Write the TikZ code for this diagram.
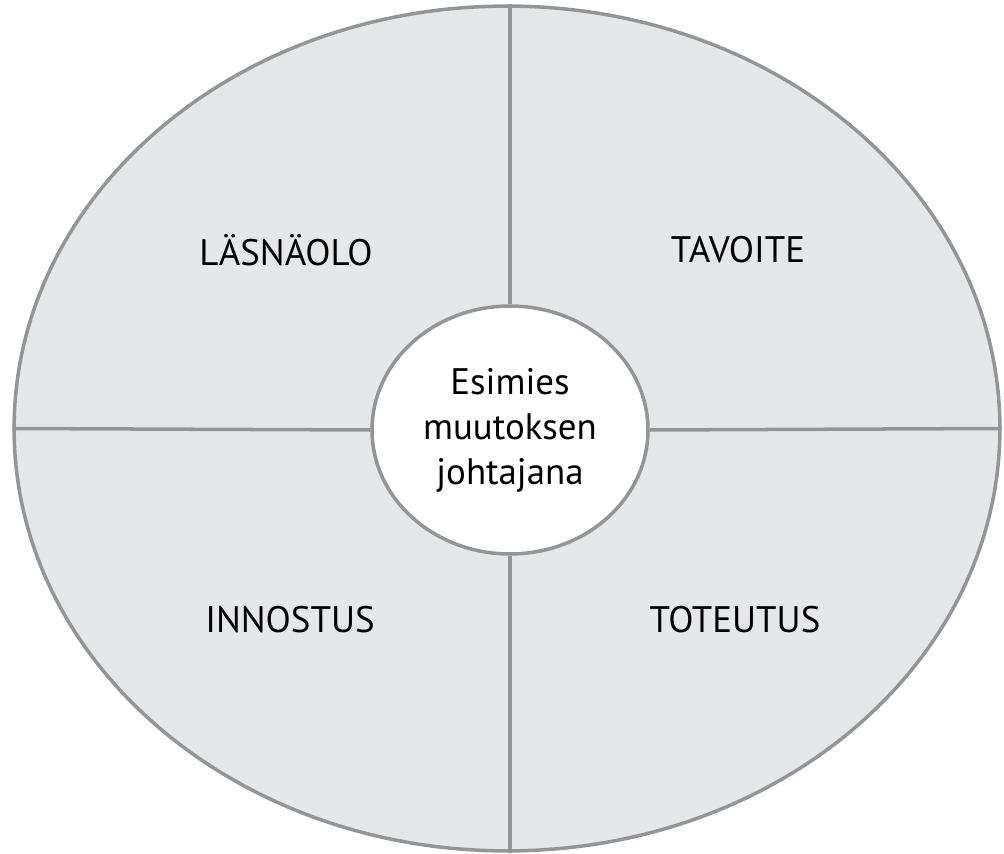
\documentclass[tikz,border=0pt]{standalone}
\usepackage{fontspec}
\setmainfont{PT Sans}
\usetikzlibrary{shapes.geometric}
\definecolor{taus}{HTML}{E6E7E8}
\definecolor{viiva}{HTML}{939598}

\begin{document}
\begin{tikzpicture}[x=0.02cm, y=-0.02cm, line width=2pt] % 1 yksikkö = 1 px
  \useasboundingbox (0,0) rectangle (1004,854); % kuvan koko
  \tikzset{lohko/.style={font=\fontsize{21}{25.6}\selectfont, text=black}}

  \node[ellipse, draw=viiva, fill=taus, minimum width=19.72cm, minimum height=16.9cm, inner sep=0pt] (ulko) at (507,428.5) {}; % ulompi ellipsi
  \node[ellipse, draw=viiva, fill=white, minimum width=5.52cm, minimum height=4.96cm, inner sep=0pt,
        lohko, align=center] (esimies) at (510,430) {Esimies\\muutoksen\\johtajana}; % keskus

  \draw[viiva] (esimies.north) -- (esimies.north |- ulko.north); % jakoviivat
  \draw[viiva] (esimies.south) -- (esimies.south |- ulko.south);
  \draw[viiva] (esimies.west) -- (ulko.west);
  \draw[viiva] (esimies.east) -- (ulko.east);

  \node[lohko] (lasnaolo) at (286,250) {LÄSNÄOLO};
  \node[lohko] (tavoite) at (738,250) {TAVOITE};
  \node[lohko] (innostus) at (290,620) {INNOSTUS};
  \node[lohko] (toteutus) at (735,620) {TOTEUTUS};
\end{tikzpicture}
\end{document}
